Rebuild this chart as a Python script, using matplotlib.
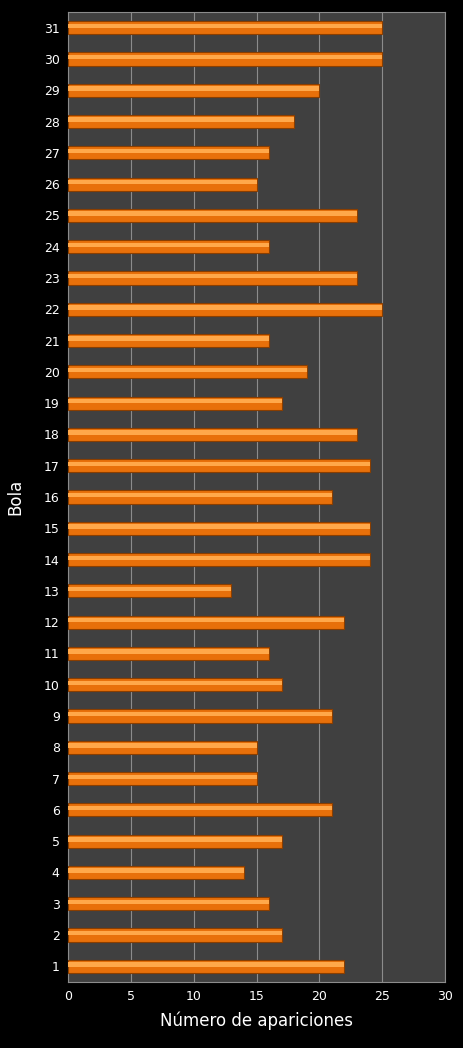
import matplotlib
matplotlib.use("Agg")
import matplotlib.pyplot as plt

bolas = list(range(1, 32))
apariciones = [22, 17, 16, 14, 17, 21, 15, 15, 21, 17, 16, 22, 13, 24, 24, 21,
               24, 23, 17, 19, 16, 25, 23, 16, 23, 15, 16, 18, 20, 25, 25]

fig = plt.figure(figsize=(4.63, 10.48), dpi=100, facecolor="black")
ax = fig.add_axes([68 / 463, 1 - 982 / 1048, 377 / 463, 970 / 1048])
ax.set_facecolor("#404040")

# bar with a lighter highlight stripe for the 3D look
ax.barh(bolas, apariciones, height=0.42, color="#E8700A", edgecolor="#8A3E00", linewidth=0.8, zorder=3)
ax.barh([b + 0.06 for b in bolas], apariciones, height=0.14, color="#FFA84A", linewidth=0, zorder=4)

ax.set_xlim(0, 30)
ax.set_ylim(0.5, 31.5)
ax.set_xticks(range(0, 31, 5))
ax.set_yticks(bolas)
ax.xaxis.grid(True, color="#8C8C8C", linewidth=0.8, zorder=0)
ax.tick_params(colors="white", labelsize=9, length=0, pad=6)
for s in ax.spines.values():
    s.set_color("#8C8C8C")
ax.set_xlabel("Número de apariciones", color="white", fontsize=12, labelpad=6)
ax.set_ylabel("Bola", color="white", fontsize=12, labelpad=14)

fig.savefig("out.png", facecolor="black")
